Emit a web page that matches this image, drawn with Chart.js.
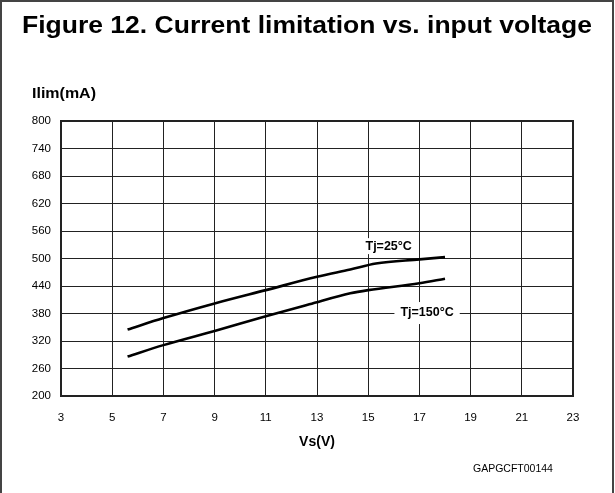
<!DOCTYPE html>
<html>
<head>
<meta charset="utf-8">
<script src="https://cdn.jsdelivr.net/npm/chart.js@4.4.2/dist/chart.umd.min.js"></script>
<style>
  html, body { margin: 0; padding: 0; background: #fff; }
</style>
</head>
<body>
<canvas id="chart" width="615" height="493"></canvas>
<script>
// Données
const xTicks = [3, 5, 7, 9, 11, 13, 15, 17, 19, 21, 23];
const yTicks = [200, 260, 320, 380, 440, 500, 560, 620, 680, 740, 800];

const vs25 = [5.6, 7, 9, 11, 13, 14.3, 15.3, 17, 18];
const ilim25 = [345, 370, 402, 431, 460, 476, 489, 498, 503];

const vs150 = [5.6, 7, 9, 11, 12.7, 14.3, 15, 17, 18];
const ilim150 = [286, 311, 342, 374, 400, 424, 431, 446, 456];

const FONT = "'Liberation Sans', Arial, Helvetica, sans-serif";

function toPoints(xs, ys) {
  return xs.map((x, i) => ({ x, y: ys[i] }));
}

// fond blanc + cadre de la figure
const framePlugin = {
  id: 'frame',
  beforeDraw(chart) {
    const { ctx, width, height } = chart;
    ctx.save();
    ctx.fillStyle = '#fff';
    ctx.fillRect(0, 0, width, height);
    ctx.strokeStyle = '#444';
    ctx.lineWidth = 2;
    ctx.beginPath();
    ctx.moveTo(1, height);
    ctx.lineTo(1, 1);
    ctx.lineTo(width - 2, 1);
    ctx.lineTo(width - 2, height);
    ctx.stroke();
    ctx.restore();
  },
  afterDraw(chart) {
    const { ctx, chartArea: a, scales } = chart;
    ctx.save();
    // bord du graphe
    ctx.strokeStyle = '#222';
    ctx.lineWidth = 2;
    ctx.strokeRect(a.left, a.top, a.right - a.left, a.bottom - a.top);

    // titre (légèrement étiré comme sur l'original)
    ctx.fillStyle = '#000';
    ctx.font = 'bold 23.5px ' + FONT;
    ctx.textBaseline = 'middle';
    ctx.textAlign = 'center';
    const title = 'Figure 12. Current limitation vs. input voltage';
    const w = ctx.measureText(title).width;
    ctx.save();
    ctx.translate(307, 27);
    ctx.scale(570 / w, 1);
    ctx.fillText(title, 0, 0);
    ctx.restore();

    // titre axe Y
    ctx.font = 'bold 14px ' + FONT;
    ctx.textAlign = 'left';
    const yt = 'Ilim(mA)';
    const yw = ctx.measureText(yt).width;
    ctx.save();
    ctx.translate(32, 94);
    ctx.scale(64 / yw, 1);
    ctx.fillText(yt, 0, 0);
    ctx.restore();

    // référence
    ctx.font = '10.5px ' + FONT;
    ctx.fillText('GAPGCFT00144', 473, 469);

    // étiquettes des courbes
    drawLabel(ctx, 'Tj=25°C', scales.x.getPixelForValue(15.8), scales.y.getPixelForValue(527), 6, 8);
    drawLabel(ctx, 'Tj=150°C', scales.x.getPixelForValue(17.3), scales.y.getPixelForValue(381), 6, 11);
    ctx.restore();
  }
};

function drawLabel(ctx, text, x, y, padX, padY) {
  ctx.font = 'bold 12.5px ' + FONT;
  const w = ctx.measureText(text).width;
  ctx.fillStyle = '#fff';
  ctx.fillRect(x - w / 2 - padX, y - padY, w + padX * 2, padY * 2);
  ctx.fillStyle = '#000';
  ctx.textAlign = 'center';
  ctx.textBaseline = 'middle';
  ctx.fillText(text, x, y);
}

Chart.defaults.font.family = FONT;
Chart.defaults.color = '#000';

new Chart(document.getElementById('chart'), {
  type: 'line',
  data: {
    datasets: [
      {
        label: 'Tj=25°C',
        data: toPoints(vs25, ilim25),
        borderColor: '#000',
        borderWidth: 2.6,
        pointRadius: 0,
        cubicInterpolationMode: 'monotone'
      },
      {
        label: 'Tj=150°C',
        data: toPoints(vs150, ilim150),
        borderColor: '#000',
        borderWidth: 2.6,
        pointRadius: 0,
        cubicInterpolationMode: 'monotone'
      }
    ]
  },
  options: {
    responsive: false,
    animation: false,
    devicePixelRatio: 1,
    layout: { padding: { top: 121, left: 0, right: 42, bottom: 0 } },
    plugins: {
      legend: { display: false },
      tooltip: { enabled: false }
    },
    scales: {
      x: {
        type: 'linear',
        min: 3,
        max: 23,
        afterBuildTicks: s => { s.ticks = xTicks.map(v => ({ value: v })); },
        afterFit: s => { s.height = 97; },
        grid: { color: '#222', lineWidth: 1, drawTicks: false },
        border: { color: '#222', width: 2 },
        ticks: { font: { size: 11.5 }, padding: 15, maxRotation: 0 },
        title: {
          display: true,
          text: 'Vs(V)',
          font: { size: 14, weight: 'bold' },
          padding: { top: 0, bottom: 42 }
        }
      },
      y: {
        type: 'linear',
        min: 200,
        max: 800,
        afterBuildTicks: s => { s.ticks = yTicks.map(v => ({ value: v })); },
        afterFit: s => { s.width = 61; },
        grid: { color: '#222', lineWidth: 1, drawTicks: false },
        border: { color: '#222', width: 2 },
        ticks: { font: { size: 11.5 }, padding: 10 }
      }
    }
  },
  plugins: [framePlugin]
});
</script>
</body>
</html>
